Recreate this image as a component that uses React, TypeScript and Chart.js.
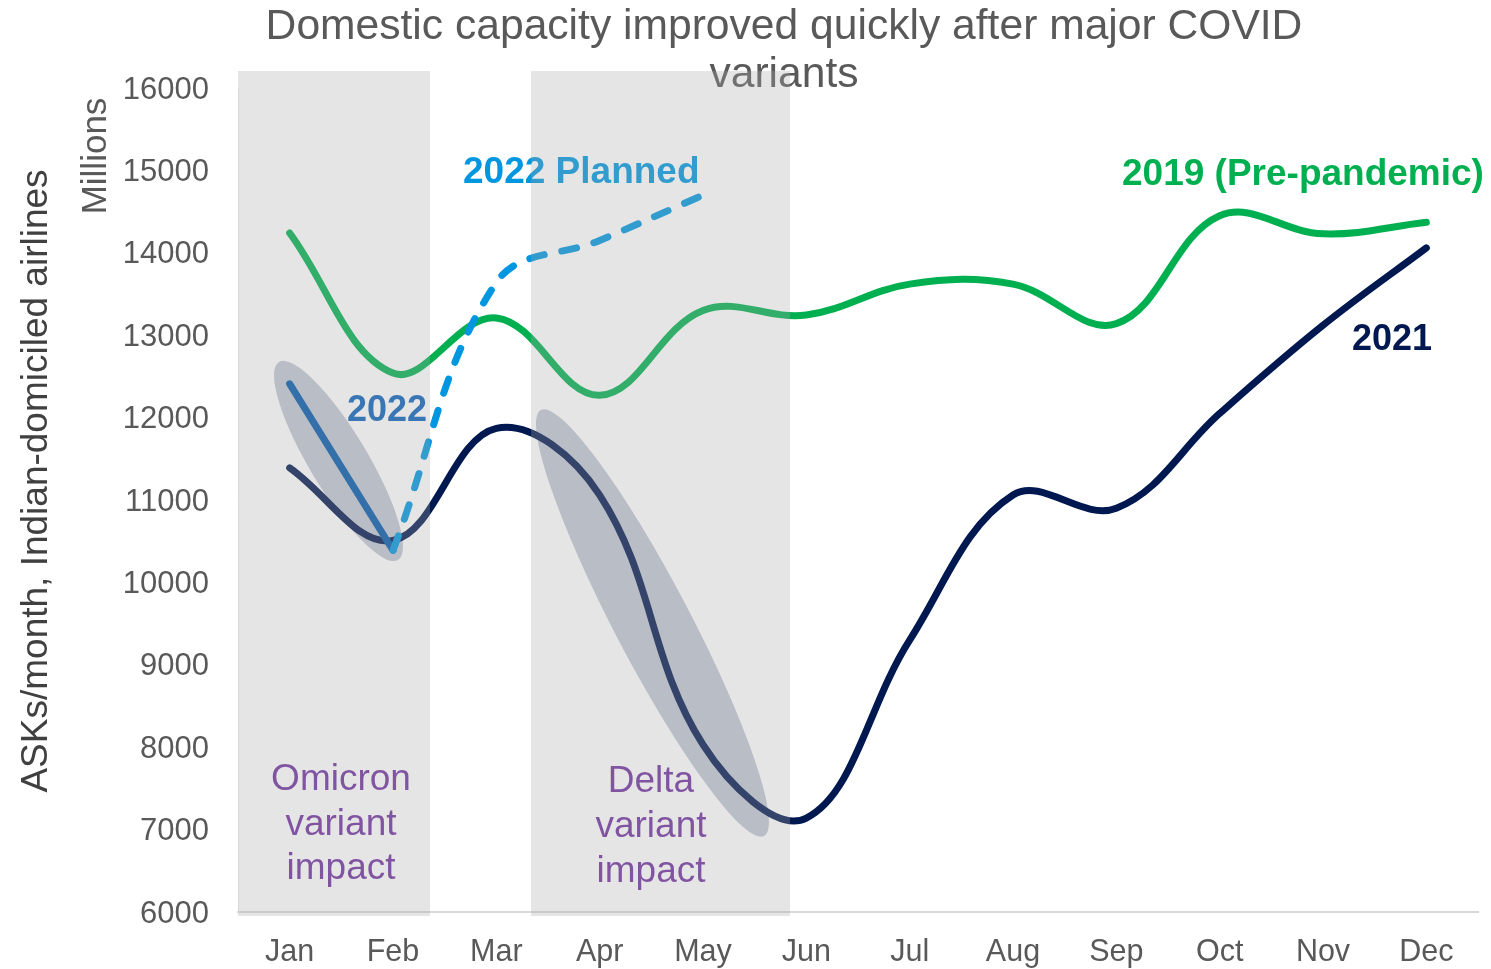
import React, { useEffect, useRef } from 'react';
import { Chart, registerables } from 'chart.js';

Chart.register(...registerables);

const FONT = '"Liberation Sans", Arial, Helvetica, sans-serif';

const months = ['Jan', 'Feb', 'Mar', 'Apr', 'May', 'Jun', 'Jul', 'Aug', 'Sep', 'Oct', 'Nov', 'Dec'];
const values2019 = [14240, 12540, 13210, 12270, 13300, 13245, 13620, 13620, 13140, 14450, 14230, 14370];
const values2021 = [11390, 10510, 11870, 11060, 8030, 7140, 9300, 11060, 10900, 12050, 13120, 14060];
const values2022 = [12410, 10390, null, null, null, null, null, null, null, null, null, null];
const values2022Planned = [null, 10390, 13640, 14150, 14700, null, null, null, null, null, null, null];
const yTicks = [6000, 7000, 8000, 9000, 10000, 11000, 12000, 13000, 14000, 15000, 16000];

// shaded variant periods in (category index, value) space
const bands = [
  { x0: -0.5, x1: 1.358, y0: 5951, y1: 16206 },
  { x0: 2.336, x1: 4.842, y0: 5951, y1: 16206 },
];
// highlight ellipses: major axis endpoints (index, value) + semi-minor radius in px
const ellipses = [
  { a: [-0.103, 12675], b: [1.048, 10272], r: 29 },
  { a: [2.432, 12092], b: [4.59, 6922], r: 38 },
];

const overlayPlugin = {
  id: 'overlay',
  beforeDatasetsDraw(chart: any) {
    const { ctx, scales } = chart;
    const x = scales.x, y = scales.y;
    ctx.save();
    ctx.fillStyle = 'rgba(0,24,80,0.25)';
    for (const e of ellipses) {
      const ax = x.getPixelForValue(e.a[0]), ay = y.getPixelForValue(e.a[1]);
      const bx = x.getPixelForValue(e.b[0]), by = y.getPixelForValue(e.b[1]);
      const cx = (ax + bx) / 2, cy = (ay + by) / 2;
      const len = Math.hypot(bx - ax, by - ay) / 2;
      const ang = Math.atan2(by - ay, bx - ax);
      ctx.beginPath();
      ctx.ellipse(cx, cy, len, e.r, ang, 0, Math.PI * 2);
      ctx.fill();
    }
    ctx.restore();
  },
  afterDatasetsDraw(chart: any) {
    const { ctx, scales } = chart;
    const x = scales.x, y = scales.y;
    ctx.save();
    ctx.textBaseline = 'alphabetic';
    // title
    ctx.fillStyle = '#595959';
    ctx.font = `42.6px ${FONT}`;
    ctx.textAlign = 'center';
    ctx.fillText('Domestic capacity improved quickly after major COVID', 784, 39);
    ctx.fillText('variants', 784, 87);
    // axis titles
    ctx.save();
    ctx.translate(47, 481);
    ctx.rotate(-Math.PI / 2);
    ctx.fillStyle = '#404040';
    ctx.font = `37px ${FONT}`;
    ctx.fillText('ASKs/month, Indian-domiciled airlines', 0, 0);
    ctx.restore();
    ctx.save();
    ctx.translate(106, 156);
    ctx.rotate(-Math.PI / 2);
    ctx.fillStyle = '#595959';
    ctx.font = `35px ${FONT}`;
    ctx.fillText('Millions', 0, 0);
    ctx.restore();
    // series labels
    ctx.textAlign = 'left';
    ctx.font = `bold 37px ${FONT}`;
    ctx.fillStyle = '#0097e0';
    ctx.fillText('2022 Planned', 463, 183);
    ctx.fillStyle = '#00b050';
    ctx.fillText('2019 (Pre-pandemic)', 1122, 185);
    ctx.font = `bold 36px ${FONT}`;
    ctx.fillStyle = '#001850';
    ctx.fillText('2021', 1352, 350);
    ctx.fillStyle = '#0a60b8';
    ctx.fillText('2022', 347, 421);
    // variant labels
    ctx.textAlign = 'center';
    ctx.font = `37px ${FONT}`;
    ctx.fillStyle = '#7030a0';
    ['Omicron', 'variant', 'impact'].forEach((t, i) => ctx.fillText(t, 341, 790 + i * 44.5));
    ['Delta', 'variant', 'impact'].forEach((t, i) => ctx.fillText(t, 651, 792 + i * 45));
    // translucent bands on top
    ctx.fillStyle = 'rgba(170,170,170,0.3)';
    for (const b of bands) {
      const px0 = x.getPixelForValue(b.x0), px1 = x.getPixelForValue(b.x1);
      const py0 = y.getPixelForValue(b.y0), py1 = y.getPixelForValue(b.y1);
      ctx.fillRect(px0, py1, px1 - px0, py0 - py1);
    }
    ctx.restore();
  },
};

export default function App() {
  const ref = useRef<HTMLCanvasElement>(null);
  useEffect(() => {
    document.body.style.margin = '0';
    const common = {
      borderWidth: 7,
      pointRadius: 0,
      pointHoverRadius: 0,
      tension: 0.38,
      borderCapStyle: 'round' as const,
      borderJoinStyle: 'round' as const,
      fill: false,
      spanGaps: false,
    };
    const chart = new Chart(ref.current!, {
      type: 'line',
      data: {
        labels: months,
        datasets: [
          { ...common, label: '2022 Planned', data: values2022Planned, borderColor: '#0097e0', borderDash: [15, 18] },
          { ...common, label: '2022', data: values2022, borderColor: '#0057aa' },
          { ...common, label: '2021', data: values2021, borderColor: '#001850' },
          { ...common, label: '2019 (Pre-pandemic)', data: values2019, borderColor: '#00b050' },
        ],
      },
      options: {
        responsive: false,
        animation: false,
        devicePixelRatio: 1,
        layout: { padding: { top: 88, right: 13, left: 0, bottom: 0 } },
        plugins: { legend: { display: false }, tooltip: { enabled: false }, title: { display: false } },
        scales: {
          x: {
            type: 'category',
            offset: true,
            grid: { display: false, drawTicks: false },
            border: { display: true, color: '#d9d9d9', width: 2 },
            ticks: { font: { family: FONT, size: 30.5 }, color: '#595959', padding: 22, maxRotation: 0, autoSkip: false },
            afterFit: (s: any) => { s.height = 57; },
          },
          y: {
            type: 'linear',
            min: 6000,
            max: 16000,
            grid: { display: false, drawTicks: false },
            border: { display: true, color: '#ececec', width: 1 },
            afterBuildTicks: (s: any) => { s.ticks = yTicks.map((v) => ({ value: v })); },
            ticks: { font: { family: FONT, size: 31 }, color: '#595959', padding: 29, labelOffset: 2, callback: (v: any) => String(v) },
            afterFit: (s: any) => { s.width = 238; },
          },
        },
      },
      plugins: [overlayPlugin],
    });
    return () => chart.destroy();
  }, []);
  return (
    <div style={{ position: 'absolute', left: 0, top: 0, width: 1491, height: 969, background: '#fff' }}>
      <canvas ref={ref} width={1491} height={969} style={{ width: 1491, height: 969, display: 'block' }} />
    </div>
  );
}
